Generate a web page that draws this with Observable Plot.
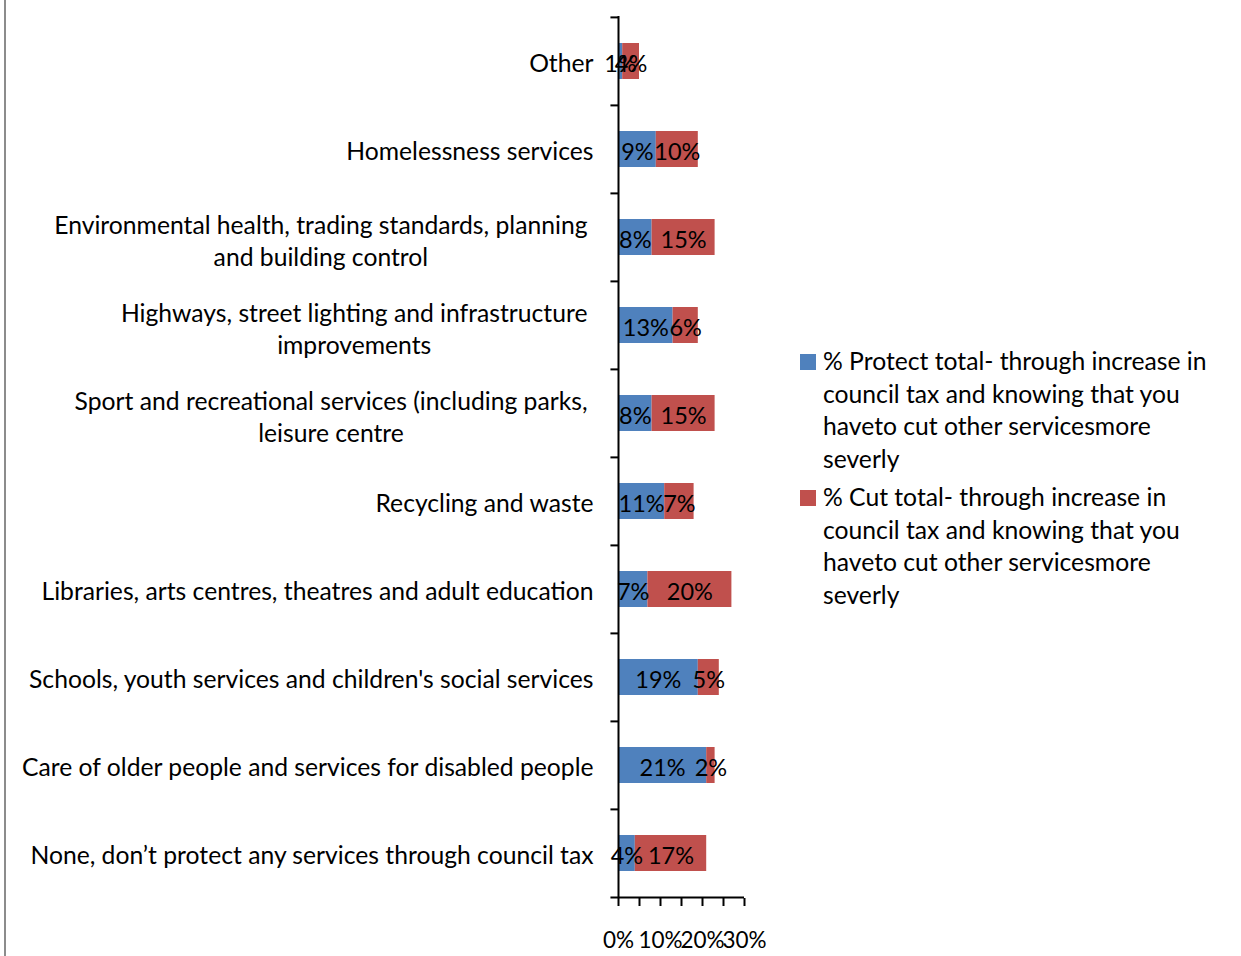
<!DOCTYPE html>
<html><head><meta charset="utf-8">
<script src="https://cdn.jsdelivr.net/npm/d3@7"></script>
<script src="https://cdn.jsdelivr.net/npm/@observablehq/plot@0.6"></script>
<style>
body{margin:0;background:#fff;font-family:Lato, sans-serif;}
#wrap{position:relative;width:1241px;height:956px;overflow:hidden;}
#border{position:absolute;left:4px;top:0;width:2px;height:956px;background:#8c8c8c;}
#chart{position:absolute;left:0;top:0;}
#legend{position:absolute;left:800px;top:345px;font-size:24.7px;line-height:32.5px;color:#000;}
.item{display:flex;margin-bottom:6px;}
.sw{width:16px;height:16px;margin-top:9px;margin-right:7px;flex:none;}
</style></head><body>
<div id="wrap"><div id="border"></div><div id="chart"></div><div id="legend"></div></div>
<script>
const categories = [
  "Other",
  "Homelessness services",
  "Environmental health, trading standards, planning\nand building control",
  "Highways, street lighting and infrastructure\nimprovements",
  "Sport and recreational services (including parks,\nleisure centre",
  "Recycling and waste",
  "Libraries, arts centres, theatres and adult education",
  "Schools, youth services and children's social services",
  "Care of older people and services for disabled people",
  "None, don\u2019t protect any services through council tax"
];
const protectValues = [1, 9, 8, 13, 8, 11, 7, 19, 21, 4];
const cutValues     = [4, 10, 15, 6, 15, 7, 20, 5, 2, 17];
const seriesNames = [
  "% Protect total- through increase in council tax and knowing that you haveto cut other servicesmore severly",
  "% Cut total- through increase in council tax and knowing that you haveto cut other servicesmore severly"
];
const legendLines = [
  ["% Protect total- through increase in", "council tax and knowing that you", "haveto cut other servicesmore", "severly"],
  ["% Cut total- through increase in", "council tax and knowing that you", "haveto cut other servicesmore", "severly"]
];
const seriesColors = ["#4F81BD", "#C0504D"];
const xTicks = [0, 5, 10, 15, 20, 25, 30];
const xTickLabels = ["0%", "", "10%", "", "20%", "", "30%"];

const rows = [];
categories.forEach((c, i) => {
  rows.push({cat: c, series: seriesNames[0], value: protectValues[i]});
  rows.push({cat: c, series: seriesNames[1], value: cutValues[i]});
});

const FONT = "Lato";
const FS = 22.5;    // axis numbers
const DFS = 23.5;   // data labels
const LFS = 24.7;   // category labels
const W = 1241, H = 956;
const mTop = 16, mBottom = 58, mLeft = 618, mRight = 497;
const halfStep = (H - mTop - mBottom) / categories.length / 2;

const ctx = document.createElement("canvas").getContext("2d");
ctx.font = `${LFS}px ${FONT}`;

const single = categories.filter(c => !c.includes("\n"));
const wrapped = categories.filter(c => c.includes("\n"));
const wrappedMarks = wrapped.map(c => {
  const w = Math.max(...c.split("\n").map(s => ctx.measureText(s).width));
  return Plot.text([c], {x: () => 0, y: d => d, text: d => d, textAnchor: "middle",
    dx: -31 - w / 2, dy: 2, fontSize: LFS, lineHeight: 32 / LFS, fill: "black"});
});

const tickLabelMap = new Map(xTicks.map((t, i) => [t, xTickLabels[i]]));
const lastCat = categories[categories.length - 1];

const chart = Plot.plot({
  width: W, height: H,
  marginTop: mTop, marginBottom: mBottom, marginLeft: mLeft, marginRight: mRight,
  style: {fontFamily: FONT, fontSize: FS + "px", background: "transparent", color: "black"},
  x: {domain: [0, 30], axis: null},
  y: {domain: categories, paddingInner: 0.592, paddingOuter: 0.296, axis: null},
  color: {domain: seriesNames, range: seriesColors},
  marks: [
    Plot.barX(rows, Plot.stackX({x: "value", y: "cat", fill: "series"})),
    Plot.text(rows, Plot.stackX({x: "value", y: "cat", text: d => d.value + "%", fontSize: DFS, dy: 3, fill: "black"})),
    Plot.ruleX([0], {stroke: "black", strokeWidth: 2}),
    Plot.ruleY(categories, {y: d => d, x1: -1.8, x2: 0, dy: -halfStep, stroke: "black", strokeWidth: 2}),
    Plot.ruleY([lastCat], {y: d => d, x1: -1.8, x2: 30, dy: halfStep, stroke: "black", strokeWidth: 2}),
    Plot.axisX({ticks: xTicks, tickFormat: d => tickLabelMap.get(d), tickSize: 8, tickPadding: 26,
      label: null, fontSize: FS, strokeWidth: 2, stroke: "black"}),
    Plot.text(single, {x: () => 0, y: d => d, text: d => d, textAnchor: "end", dx: -25, dy: 3, fontSize: LFS, fill: "black"}),
    ...wrappedMarks
  ]
});
document.getElementById("chart").appendChild(chart);

const legend = document.getElementById("legend");
seriesNames.forEach((s, i) => {
  const item = document.createElement("div");
  item.className = "item";
  item.title = s;
  const sw = document.createElement("div");
  sw.className = "sw";
  sw.style.background = seriesColors[i];
  const tx = document.createElement("div");
  tx.innerHTML = legendLines[i].join("<br>");
  item.appendChild(sw); item.appendChild(tx);
  legend.appendChild(item);
});
</script>
</body></html>
